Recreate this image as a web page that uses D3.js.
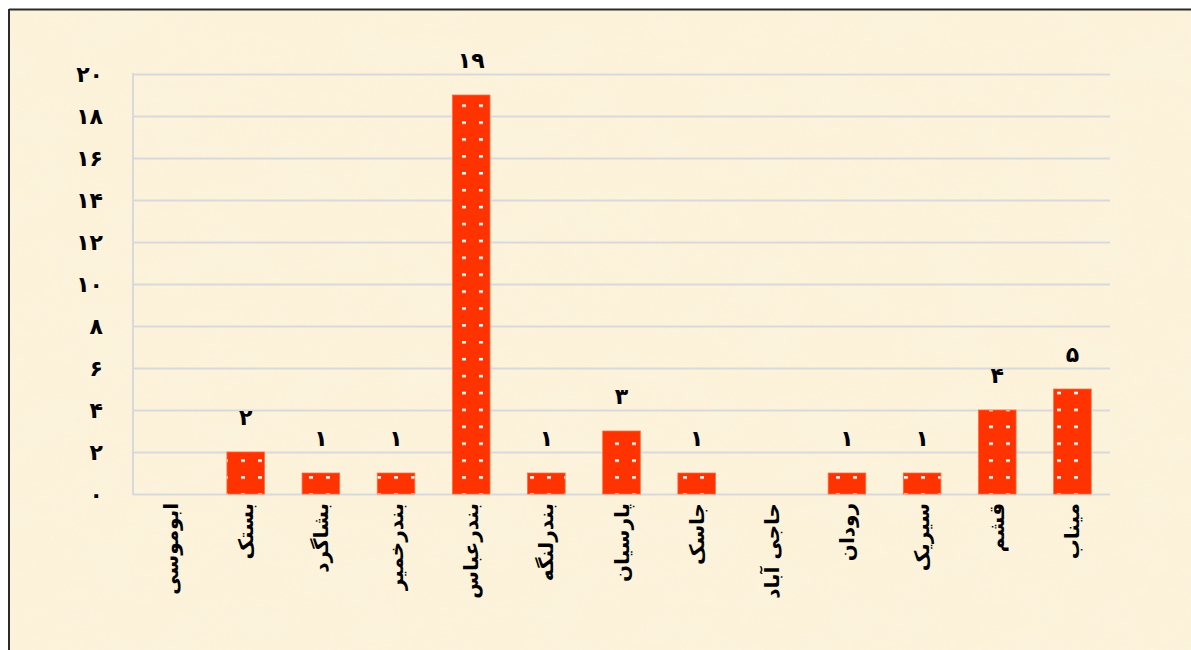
<!DOCTYPE html>
<html>
<head>
<meta charset="utf-8">
<script src="https://cdn.jsdelivr.net/npm/d3@7/dist/d3.min.js"></script>
<style>
  html, body { margin: 0; padding: 0; background: #ffffff; }
  svg { display: block; }
</style>
</head>
<body>
<script>
// ---- data ----
const categories = ["ابوموسی", "بستک", "بشاگرد", "بندرخمیر", "بندرعباس", "بندرلنگه", "پارسیان", "جاسک", "حاجی آباد", "رودان", "سیریک", "قشم", "میناب"];
const values = [0, 2, 1, 1, 19, 1, 3, 1, 0, 1, 1, 4, 5];
const valueLabels = ["۰", "۲", "۱", "۱", "۱۹", "۱", "۳", "۱", "۰", "۱", "۱", "۴", "۵"];
const yTicks = [0, 2, 4, 6, 8, 10, 12, 14, 16, 18, 20];
const yTickLabels = ["۰", "۲", "۴", "۶", "۸", "۱۰", "۱۲", "۱۴", "۱۶", "۱۸", "۲۰"];

// ---- layout ----
const W = 1191, H = 650;
const plot = { left: 133, right: 1110, top: 74, bottom: 494 };
const FONT = "'DejaVu Sans', 'Noto Sans', sans-serif";

const svg = d3.select("body").append("svg")
  .attr("width", W).attr("height", H);

const defs = svg.append("defs");
// parchment texture
const filt = defs.append("filter").attr("id", "parch")
  .attr("x", 0).attr("y", 0).attr("width", "100%").attr("height", "100%");
filt.append("feTurbulence").attr("type", "fractalNoise")
  .attr("baseFrequency", "0.015 0.025").attr("numOctaves", 3).attr("seed", 7).attr("result", "n");
filt.append("feColorMatrix").attr("in", "n").attr("type", "matrix")
  .attr("values", "0 0 0 0 0.98  0 0 0 0 0.92  0 0 0 0 0.76  0 0 0 0.9 -0.3")
  .attr("result", "c");
filt.append("feComposite").attr("in", "c").attr("in2", "SourceGraphic").attr("operator", "in");

// dotted bar pattern
const pat = defs.append("pattern").attr("id", "dots")
  .attr("patternUnits", "userSpaceOnUse")
  .attr("x", 3).attr("y", 3)
  .attr("width", 17).attr("height", 16.9);
pat.append("rect").attr("width", 17).attr("height", 16.9).attr("fill", "#ff3300");
pat.append("rect").attr("x", 0).attr("y", 0).attr("width", 4).attr("height", 2.5).attr("fill", "#ffffff");

// background frame
svg.append("rect").attr("x", 9).attr("y", 9).attr("width", W - 9).attr("height", H - 9)
  .attr("fill", "#fcf2da");
svg.append("rect").attr("x", 9).attr("y", 9).attr("width", W - 9).attr("height", H - 9)
  .attr("fill", "#fcf2da").attr("filter", "url(#parch)").attr("opacity", 0.8);
svg.append("line").attr("x1", 9).attr("x2", W).attr("y1", 9.5).attr("y2", 9.5)
  .attr("stroke", "#2b2b2b").attr("stroke-width", 2);
svg.append("line").attr("x1", 9).attr("x2", 9).attr("y1", 9).attr("y2", H)
  .attr("stroke", "#2b2b2b").attr("stroke-width", 2);

// ---- scales ----
const x = d3.scaleBand().domain(categories)
  .range([plot.left, plot.right]).paddingInner(0.5).paddingOuter(0.25);
const y = d3.scaleLinear().domain([0, 20]).range([plot.bottom, plot.top]);

// gridlines
const grid = svg.append("g").attr("transform", `translate(${plot.left},0)`)
  .call(d3.axisLeft(y).tickValues(yTicks).tickSize(-(plot.right - plot.left)).tickFormat(""));
grid.select(".domain").remove();
grid.selectAll(".tick line").attr("stroke", "#d9d9dc").attr("stroke-width", 2);

// left axis line
svg.append("line").attr("x1", plot.left).attr("x2", plot.left)
  .attr("y1", plot.top - 1).attr("y2", plot.bottom + 1)
  .attr("stroke", "#d9d9dc").attr("stroke-width", 2);

// y tick labels
const yAxis = svg.append("g").attr("transform", `translate(${plot.left},0)`)
  .call(d3.axisLeft(y).tickValues(yTicks).tickSize(0).tickPadding(30)
    .tickFormat((d, i) => yTickLabels[i]));
yAxis.select(".domain").remove();
yAxis.selectAll("text").attr("font-family", FONT).attr("font-size", 22)
  .attr("font-weight", "bold").attr("fill", "#000");

// bars
const data = categories.map((c, i) => ({ c, v: values[i], l: valueLabels[i] }));
svg.append("g").selectAll("rect").data(data.filter(d => d.v > 0)).join("rect")
  .attr("x", d => x(d.c)).attr("width", x.bandwidth())
  .attr("y", d => y(d.v)).attr("height", d => y(0) - y(d.v))
  .attr("fill", "url(#dots)")
  .attr("stroke", "#ff6a40").attr("stroke-width", 0.8);

// value labels
svg.append("g").selectAll("text").data(data.filter(d => d.v > 0)).join("text")
  .attr("x", d => x(d.c) + x.bandwidth() / 2)
  .attr("y", d => y(d.v) - 27)
  .attr("text-anchor", "middle")
  .attr("font-family", FONT).attr("font-size", 22).attr("font-weight", "bold")
  .attr("fill", "#000")
  .text(d => d.l);

// category labels (rotated)
svg.append("g").selectAll("text").data(categories).join("text")
  .attr("transform", d => `translate(${x(d) + x.bandwidth() / 2},${plot.bottom + 9}) rotate(-90)`)
  .attr("text-anchor", "end")
  .attr("dy", "0.35em")
  .attr("font-family", FONT).attr("font-size", 20).attr("font-weight", "bold")
  .attr("fill", "#000")
  .text(d => d);
</script>
</body>
</html>
